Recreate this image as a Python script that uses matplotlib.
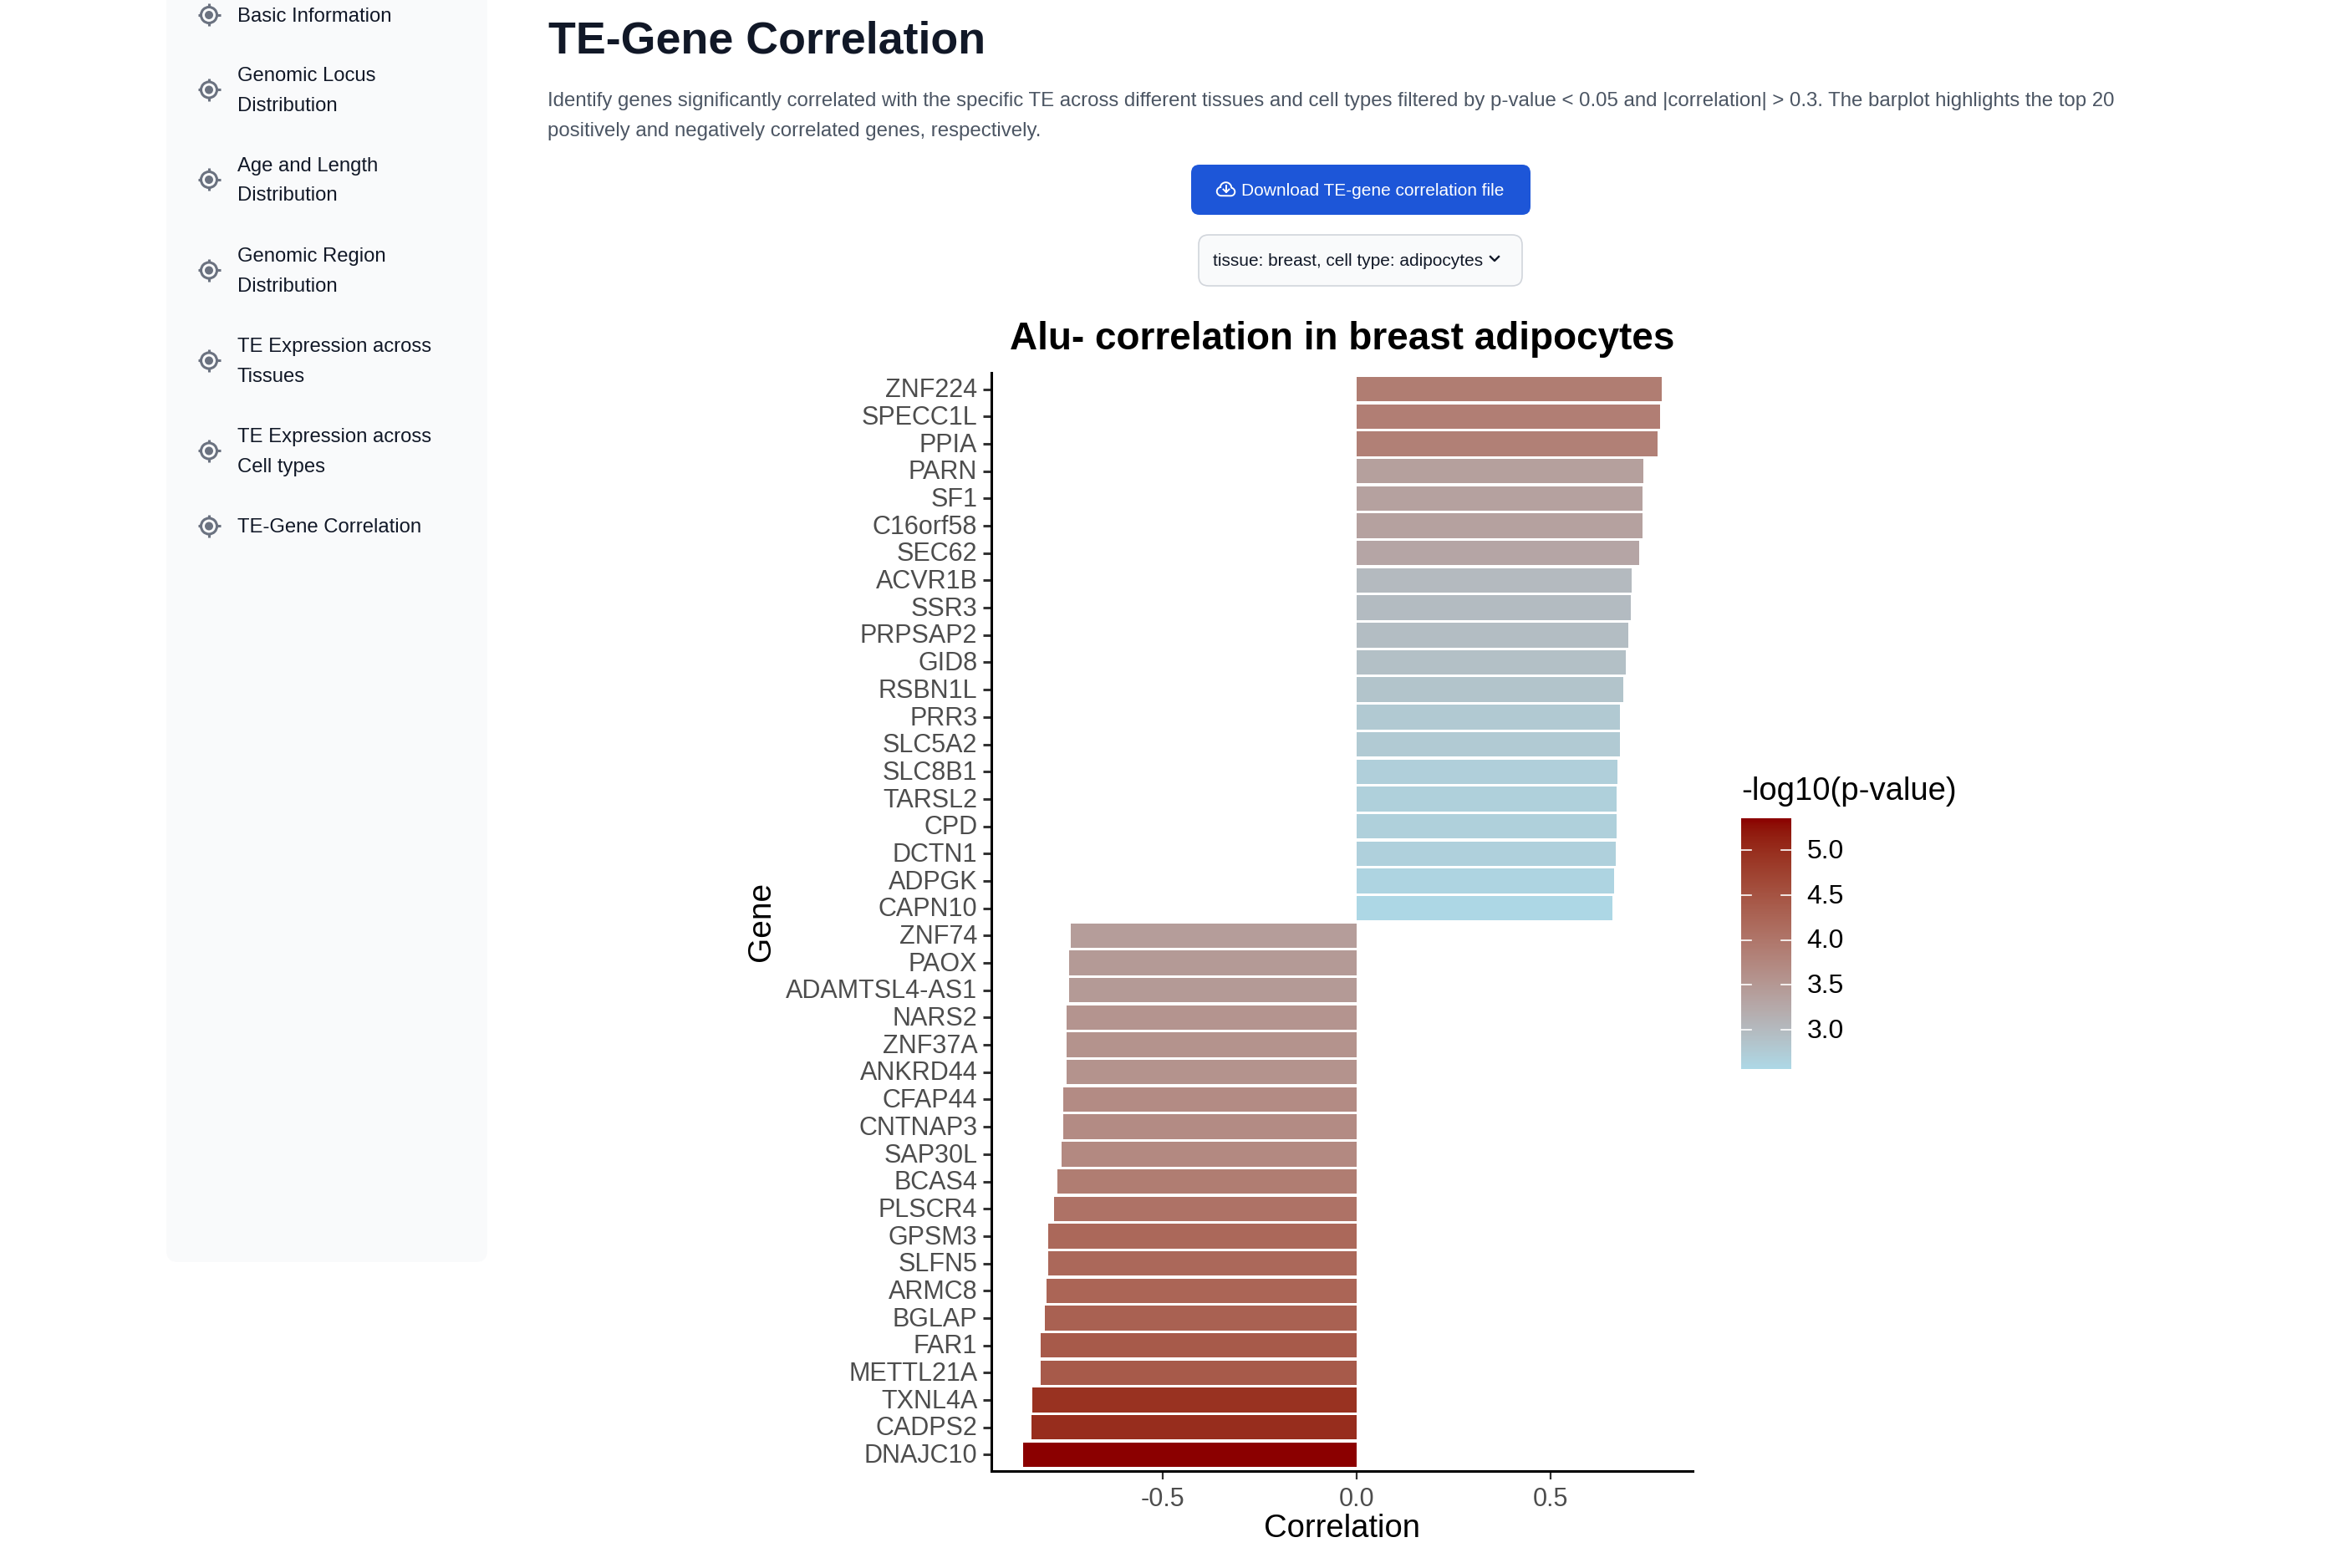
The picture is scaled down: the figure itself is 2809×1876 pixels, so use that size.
#! /usr/bin/env python
import numpy as np
import matplotlib
matplotlib.use('Agg')
import matplotlib.pyplot as plt
from matplotlib.cm import ScalarMappable
from matplotlib.colors import LinearSegmentedColormap, Normalize
from matplotlib.patches import Circle, FancyBboxPatch
from matplotlib.transforms import ScaledTranslation

plt.rcParams['font.family'] = ['Liberation Sans', 'DejaVu Sans']

W, H = 2809, 1876

genes = ['ZNF224', 'SPECC1L', 'PPIA', 'PARN', 'SF1', 'C16orf58', 'SEC62', 'ACVR1B', 'SSR3', 'PRPSAP2',
         'GID8', 'RSBN1L', 'PRR3', 'SLC5A2', 'SLC8B1', 'TARSL2', 'CPD', 'DCTN1', 'ADPGK', 'CAPN10',
         'ZNF74', 'PAOX', 'ADAMTSL4-AS1', 'NARS2', 'ZNF37A', 'ANKRD44', 'CFAP44', 'CNTNAP3', 'SAP30L', 'BCAS4',
         'PLSCR4', 'GPSM3', 'SLFN5', 'ARMC8', 'BGLAP', 'FAR1', 'METTL21A', 'TXNL4A', 'CADPS2', 'DNAJC10']
correlation = [0.788, 0.783, 0.776, 0.740, 0.738, 0.737, 0.730, 0.710, 0.707, 0.702,
               0.695, 0.687, 0.680, 0.679, 0.672, 0.671, 0.671, 0.668, 0.664, 0.661,
               -0.737, -0.741, -0.741, -0.749, -0.749, -0.749, -0.757, -0.757, -0.760, -0.772,
               -0.780, -0.795, -0.795, -0.799, -0.803, -0.814, -0.814, -0.836, -0.839, -0.859]
log_p = [3.90, 3.88, 3.85, 3.38, 3.36, 3.36, 3.30, 3.00, 2.98, 2.95,
         2.92, 2.86, 2.78, 2.77, 2.70, 2.69, 2.69, 2.67, 2.62, 2.58,
         3.42, 3.47, 3.47, 3.55, 3.57, 3.57, 3.68, 3.68, 3.72, 3.90,
         4.05, 4.20, 4.20, 4.25, 4.30, 4.40, 4.40, 4.95, 5.00, 5.357]
x_ticks = [-0.5, 0.0, 0.5]
cbar_ticks = [3.0, 3.5, 4.0, 4.5, 5.0]
log_p_range = (2.56, 5.357)

menu_items = [('Basic Information',), ('Genomic Locus', 'Distribution'), ('Age and Length', 'Distribution'),
              ('Genomic Region', 'Distribution'), ('TE Expression across', 'Tissues'),
              ('TE Expression across', 'Cell types'), ('TE-Gene Correlation',)]
menu_y = [18, 107.5, 215, 323.5, 431.5, 539.5, 629.5]


# ggplot interpolates its gradient in Lab, which is where the grey middle comes from
def rgb_to_lab(c):
	c = np.array(c)
	c = np.where(c > 0.04045, ((c + 0.055) / 1.055) ** 2.4, c / 12.92)
	m = np.array([[0.4124, 0.3576, 0.1805], [0.2126, 0.7152, 0.0722], [0.0193, 0.1192, 0.9505]])
	xyz = m.dot(c) / np.array([0.9505, 1.0, 1.089])
	f = np.where(xyz > 0.008856, np.cbrt(xyz), 7.787 * xyz + 16 / 116)
	return np.array([116 * f[1] - 16, 500 * (f[0] - f[1]), 200 * (f[1] - f[2])])

def lab_to_rgb(lab):
	fy = (lab[0] + 16) / 116
	f = np.array([fy + lab[1] / 500, fy, fy - lab[2] / 200])
	xyz = np.where(f ** 3 > 0.008856, f ** 3, (f - 16 / 116) / 7.787) * np.array([0.9505, 1.0, 1.089])
	m = np.array([[3.2406, -1.5372, -0.4986], [-0.9689, 1.8758, 0.0415], [0.0557, -0.2040, 1.0570]])
	c = np.clip(m.dot(xyz), 0, 1)
	return np.where(c > 0.0031308, 1.055 * c ** (1 / 2.4) - 0.055, 12.92 * c)

low = rgb_to_lab(matplotlib.colors.to_rgb('#ADD8E6'))
high = rgb_to_lab(matplotlib.colors.to_rgb('#8B0000'))
cmap = LinearSegmentedColormap.from_list('lab_grad', [lab_to_rgb(low + (high - low) * t) for t in np.linspace(0, 1, 64)], N=256)
norm = Normalize(*log_p_range)


def axes_px(fig, left, top, right, bottom):
	return fig.add_axes([left / W, 1 - bottom / H, (right - left) / W, (bottom - top) / H])

def arc(cx, cy, r, a0, a1):
	a = np.radians(np.linspace(a0, a1, 20))
	return cx + r * np.cos(a), cy - r * np.sin(a)

def draw_icon(page, x, y):
	col = '#6B7280'
	page.add_patch(Circle((x, y), 9.5, fill=False, ec=col, lw=2.2))
	page.add_patch(Circle((x, y), 5, fc=col, ec='none'))
	for dx, dy in [(1, 0), (-1, 0), (0, 1), (0, -1)]:
		page.plot([x + dx * 9.5, x + dx * 13.5], [y + dy * 9.5, y + dy * 13.5], color=col, lw=2.2, solid_capstyle='butt')

def draw_cloud(page):
	parts = [arc(1461, 229, 5.2, 100, 270), arc(1472.5, 229.5, 4.8, -90, 80), arc(1466.5, 225, 6.8, 20, 170)]
	xs = np.concatenate([p[0] for p in parts])
	ys = np.concatenate([p[1] for p in parts])
	page.plot(np.append(xs, xs[0]), np.append(ys, ys[0]), color='white', lw=1.4)
	page.plot([1467, 1467], [222, 230], color='white', lw=1.4)
	page.plot([1463.5, 1467, 1470.5], [226.5, 230, 226.5], color='white', lw=1.4)

def draw_page(fig):
	page = fig.add_axes([0, 0, 1, 1])
	page.set_xlim(0, W)
	page.set_ylim(H, 0)
	page.axis('off')

	page.add_patch(FancyBboxPatch((199, -60), 384, 1570, boxstyle='round,pad=0,rounding_size=14', fc='#F9FAFB', ec='none'))
	for lines, y in zip(menu_items, menu_y):
		draw_icon(page, 250, y)
		offs = [0] if len(lines) == 1 else [-18, 18]
		for line, off in zip(lines, offs):
			page.text(283.5, y + off + 1.5, line, fontsize=17.2, color='#111827', va='center', ha='left')

	page.text(656, 50, 'TE-Gene Correlation', fontsize=38.7, fontweight='bold', color='#111827', va='center', ha='left')
	page.text(655, 121, 'Identify genes significantly correlated with the specific TE across different tissues and cell types filtered by p-value < 0.05 and |correlation| > 0.3. The barplot highlights the top 20',
	          fontsize=17.3, color='#4B5563', va='center', ha='left')
	page.text(655, 157, 'positively and negatively correlated genes, respectively.', fontsize=17.3, color='#4B5563', va='center', ha='left')

	page.add_patch(FancyBboxPatch((1425, 197), 406, 60, boxstyle='round,pad=0,rounding_size=10', fc='#1D56D8', ec='none'))
	page.text(1485, 229, 'Download TE-gene correlation file', fontsize=15.05, color='white', va='center', ha='left')
	draw_cloud(page)

	page.add_patch(FancyBboxPatch((1434, 281), 387, 61, boxstyle='round,pad=0,rounding_size=12', fc='#F9FAFB', ec='#D1D5DB', lw=1.2))
	page.text(1451, 313, 'tissue: breast, cell type: adipocytes', fontsize=15.05, color='#111827', va='center', ha='left')
	page.plot([1783, 1788, 1793], [307, 312, 307], color='#111827', lw=1.7)

def draw_bars(fig):
	ax = axes_px(fig, 1186, 446, 2025, 1760)
	ax.patch.set_alpha(0)
	y = np.arange(len(genes))
	ax.barh(y, correlation, height=0.9, color=cmap(norm(np.array(log_p))), edgecolor='none')
	ax.set_xlim(-0.942, 0.867)
	ax.set_ylim(len(genes) - 0.4, -0.6)
	ax.set_yticks(y)
	ax.set_yticklabels(genes)
	ax.set_xticks(x_ticks)
	ax.set_xticklabels(['-0.5', '0.0', '0.5'])
	ax.tick_params(axis='y', labelsize=22, labelcolor='#4D4D4D', color='#333333', length=7, width=2.2, pad=5)
	ax.tick_params(axis='x', labelsize=22, labelcolor='#4D4D4D', color='#333333', length=7, width=1.6, pad=7)
	# the labels sit a touch high of the ticks in the original
	nudge = ScaledTranslation(0, 1.8 / 100, fig.dpi_scale_trans)
	for label in ax.get_yticklabels():
		label.set_transform(label.get_transform() + nudge)
	for side in ['top', 'right']:
		ax.spines[side].set_visible(False)
	for side in ['left', 'bottom']:
		ax.spines[side].set_linewidth(2.2)
	fig.text(1606 / W, 1 - 406 / H, 'Alu- correlation in breast adipocytes', fontsize=33, fontweight='bold', color='black', ha='center', va='center')
	fig.text(1606 / W, 1 - 1829 / H, 'Correlation', fontsize=27.5, color='black', ha='center', va='center')
	fig.text(911 / W, 1 - 1102 / H, 'Gene', fontsize=28, color='black', ha='center', va='center', rotation=90)

def draw_colorbar(fig):
	cax = axes_px(fig, 2083, 979, 2143, 1279)
	cb = fig.colorbar(ScalarMappable(norm=norm, cmap=cmap), cax=cax)
	cb.outline.set_visible(False)
	cb.set_ticks(cbar_ticks)
	cb.ax.tick_params(length=0, labelsize=23, labelcolor='black', pad=13.5)
	nudge = ScaledTranslation(0, 1.8 / 100, fig.dpi_scale_trans)
	for label in cax.get_yticklabels():
		label.set_transform(label.get_transform() + nudge)
	for v in cbar_ticks:
		cax.plot([0, 0.2], [v, v], color='white', lw=1.2, transform=cax.get_yaxis_transform())
		cax.plot([0.8, 1], [v, v], color='white', lw=1.2, transform=cax.get_yaxis_transform())
	fig.text(2083 / W, 1 - 947 / H, '-log10(p-value)', fontsize=27.5, color='black', ha='left', va='center')

def main():
	fig = plt.figure(figsize=(W / 100, H / 100), dpi=100, facecolor='white')
	draw_page(fig)
	draw_bars(fig)
	draw_colorbar(fig)
	fig.savefig('out.png', dpi=100)

if __name__ == '__main__':
	main()
